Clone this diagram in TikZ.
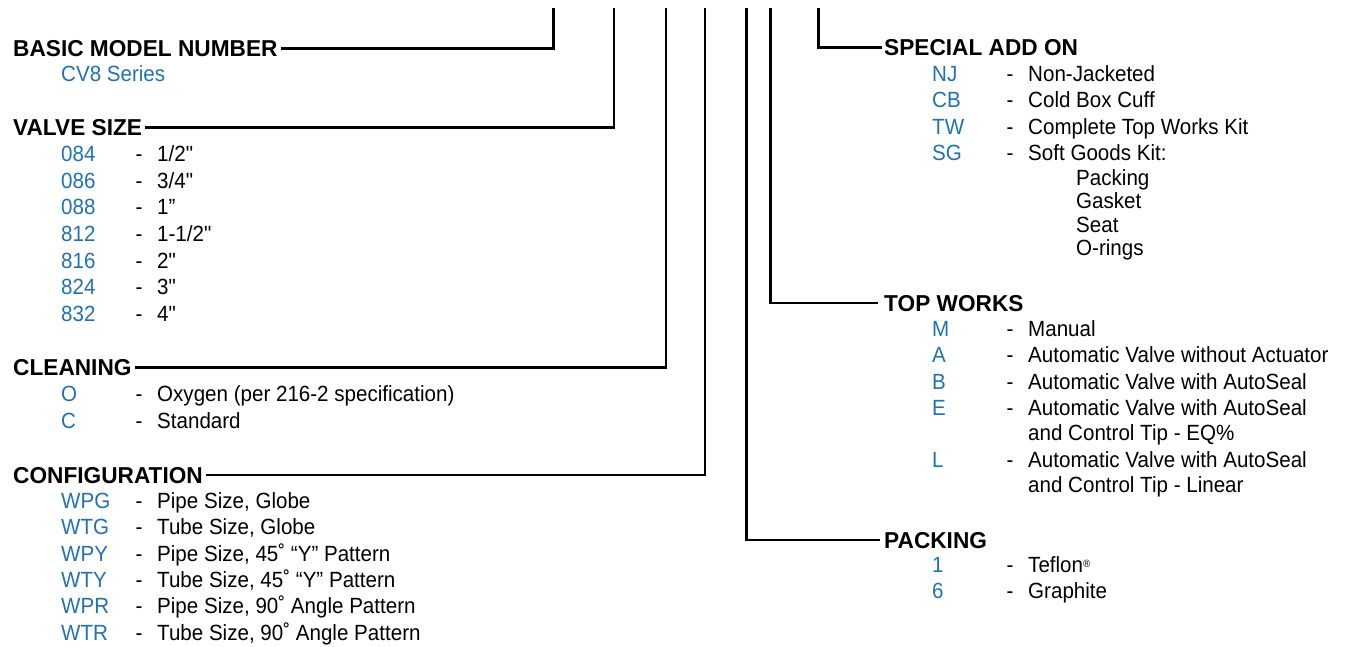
\documentclass[tikz,border=0pt]{standalone}
\usepackage{fontspec}
\setmainfont{Liberation Sans}[FakeStretch=0.935, Ligatures=TeXOff]
\newfontfamily\cvhead{Liberation Sans}[FakeStretch=0.985]
\definecolor{cvblue}{RGB}{33,113,181}
\tikzset{
 itm/.style={anchor=base west, inner sep=0pt, font=\fontsize{22}{26}\selectfont},
 cd/.style={itm, text=cvblue},
 hd/.style={anchor=west, inner sep=0pt, text height=16.5pt, text depth=0pt, font=\cvhead\bfseries\fontsize{23}{27}\selectfont},
 conn/.style={line width=2.6pt, line join=miter}
}
\newcommand\cvrow[5]{%
 \node[cd] (#1c) at (#2,#3) {#4};
 \node[itm] (#1d) at (#2+74.5,#3) {-};
 \node[itm] (#1t) at (#2+96,#3) {#5};
}
\begin{document}
\begin{tikzpicture}[x=1pt,y=-1pt]
\useasboundingbox (0,0) rectangle (1349,646);
% top ends of the connectors
\coordinate (t1) at (553.3,7.5);
\coordinate (t2) at (614,7.5);
\coordinate (t3) at (666,7.5);
\coordinate (t4) at (705,7.5);
\coordinate (t5) at (746.7,7.5);
\coordinate (t6) at (770.7,7.5);
\coordinate (t7) at (818.3,7.5);
% ---------- left column ----------
\node[hd] (bmn) at (13,48.3) {BASIC MODEL NUMBER};
\node[cd] (cv8) at (61,81) {CV8 Series};
\node[hd] (vs) at (13,127.3) {VALVE SIZE};
\cvrow{va}{61}{161.7}{084}{1/2"}
\cvrow{vb}{61}{188.3}{086}{3/4"}
\cvrow{vc}{61}{214.9}{088}{1”}
\cvrow{vd}{61}{241.5}{812}{1-1/2"}
\cvrow{ve}{61}{268.1}{816}{2"}
\cvrow{vf}{61}{294.7}{824}{3"}
\cvrow{vg}{61}{321.3}{832}{4"}
\node[hd] (cl) at (13,367.3) {CLEANING};
\cvrow{ca}{61}{401.5}{O}{Oxygen (per 216-2 specification)}
\cvrow{cb}{61}{428}{C}{Standard}
\node[hd] (cf) at (13,475) {CONFIGURATION};
\cvrow{fa}{61}{508.3}{WPG}{Pipe Size, Globe}
\cvrow{fb}{61}{534.7}{WTG}{Tube Size, Globe}
\cvrow{fc}{61}{561}{WPY}{Pipe Size, 45˚ “Y” Pattern}
\cvrow{fd}{61}{587.4}{WTY}{Tube Size, 45˚ “Y” Pattern}
\cvrow{fe}{61}{613.8}{WPR}{Pipe Size, 90˚ Angle Pattern}
\cvrow{ff}{61}{640.1}{WTR}{Tube Size, 90˚ Angle Pattern}
% ---------- right column ----------
\node[hd] (sao) at (884,47.7) {SPECIAL ADD ON};
\cvrow{sa}{932}{81}{NJ}{Non-Jacketed}
\cvrow{sb}{932}{107.5}{CB}{Cold Box Cuff}
\cvrow{sc}{932}{134}{TW}{Complete Top Works Kit}
\cvrow{sd}{932}{160.6}{SG}{Soft Goods Kit:}
\node[itm] (sg1) at (1076,185) {Packing};
\node[itm] (sg2) at (1076,208.5) {Gasket};
\node[itm] (sg3) at (1076,232) {Seat};
\node[itm] (sg4) at (1076,255.5) {O-rings};
\node[hd] (tw) at (884,303) {TOP WORKS};
\cvrow{ta}{932}{336.7}{M}{Manual}
\cvrow{tb}{932}{362.9}{A}{Automatic Valve without Actuator}
\cvrow{tc}{932}{389.1}{B}{Automatic Valve with AutoSeal}
\cvrow{td}{932}{415.5}{E}{Automatic Valve with AutoSeal}
\node[itm] (td2) at (1028,440.5) {and Control Tip - EQ\%};
\cvrow{te}{932}{467.5}{L}{Automatic Valve with AutoSeal}
\node[itm] (te2) at (1028,492.5) {and Control Tip - Linear};
\node[hd] (pk) at (884,540) {PACKING};
\cvrow{pa}{932}{572}{1}{Teflon\raisebox{5pt}{\fontsize{10.5}{10.5}\selectfont ®}}
\cvrow{pb}{932}{598}{6}{Graphite}
% ---------- connectors ----------
\draw[conn] (t1) |- ([xshift=3pt]bmn.east);
\draw[conn] (t2) |- ([xshift=3pt]vs.east);
\draw[conn] (t3) |- ([xshift=3pt]cl.east);
\draw[conn] (t4) |- ([xshift=3pt]cf.east);
\draw[conn] (t5) |- ([xshift=-4pt]pk.west);
\draw[conn] (t6) |- ([xshift=-6pt]tw.west);
\draw[conn] (t7) |- ([xshift=-2pt]sao.west);
\end{tikzpicture}
\end{document}
